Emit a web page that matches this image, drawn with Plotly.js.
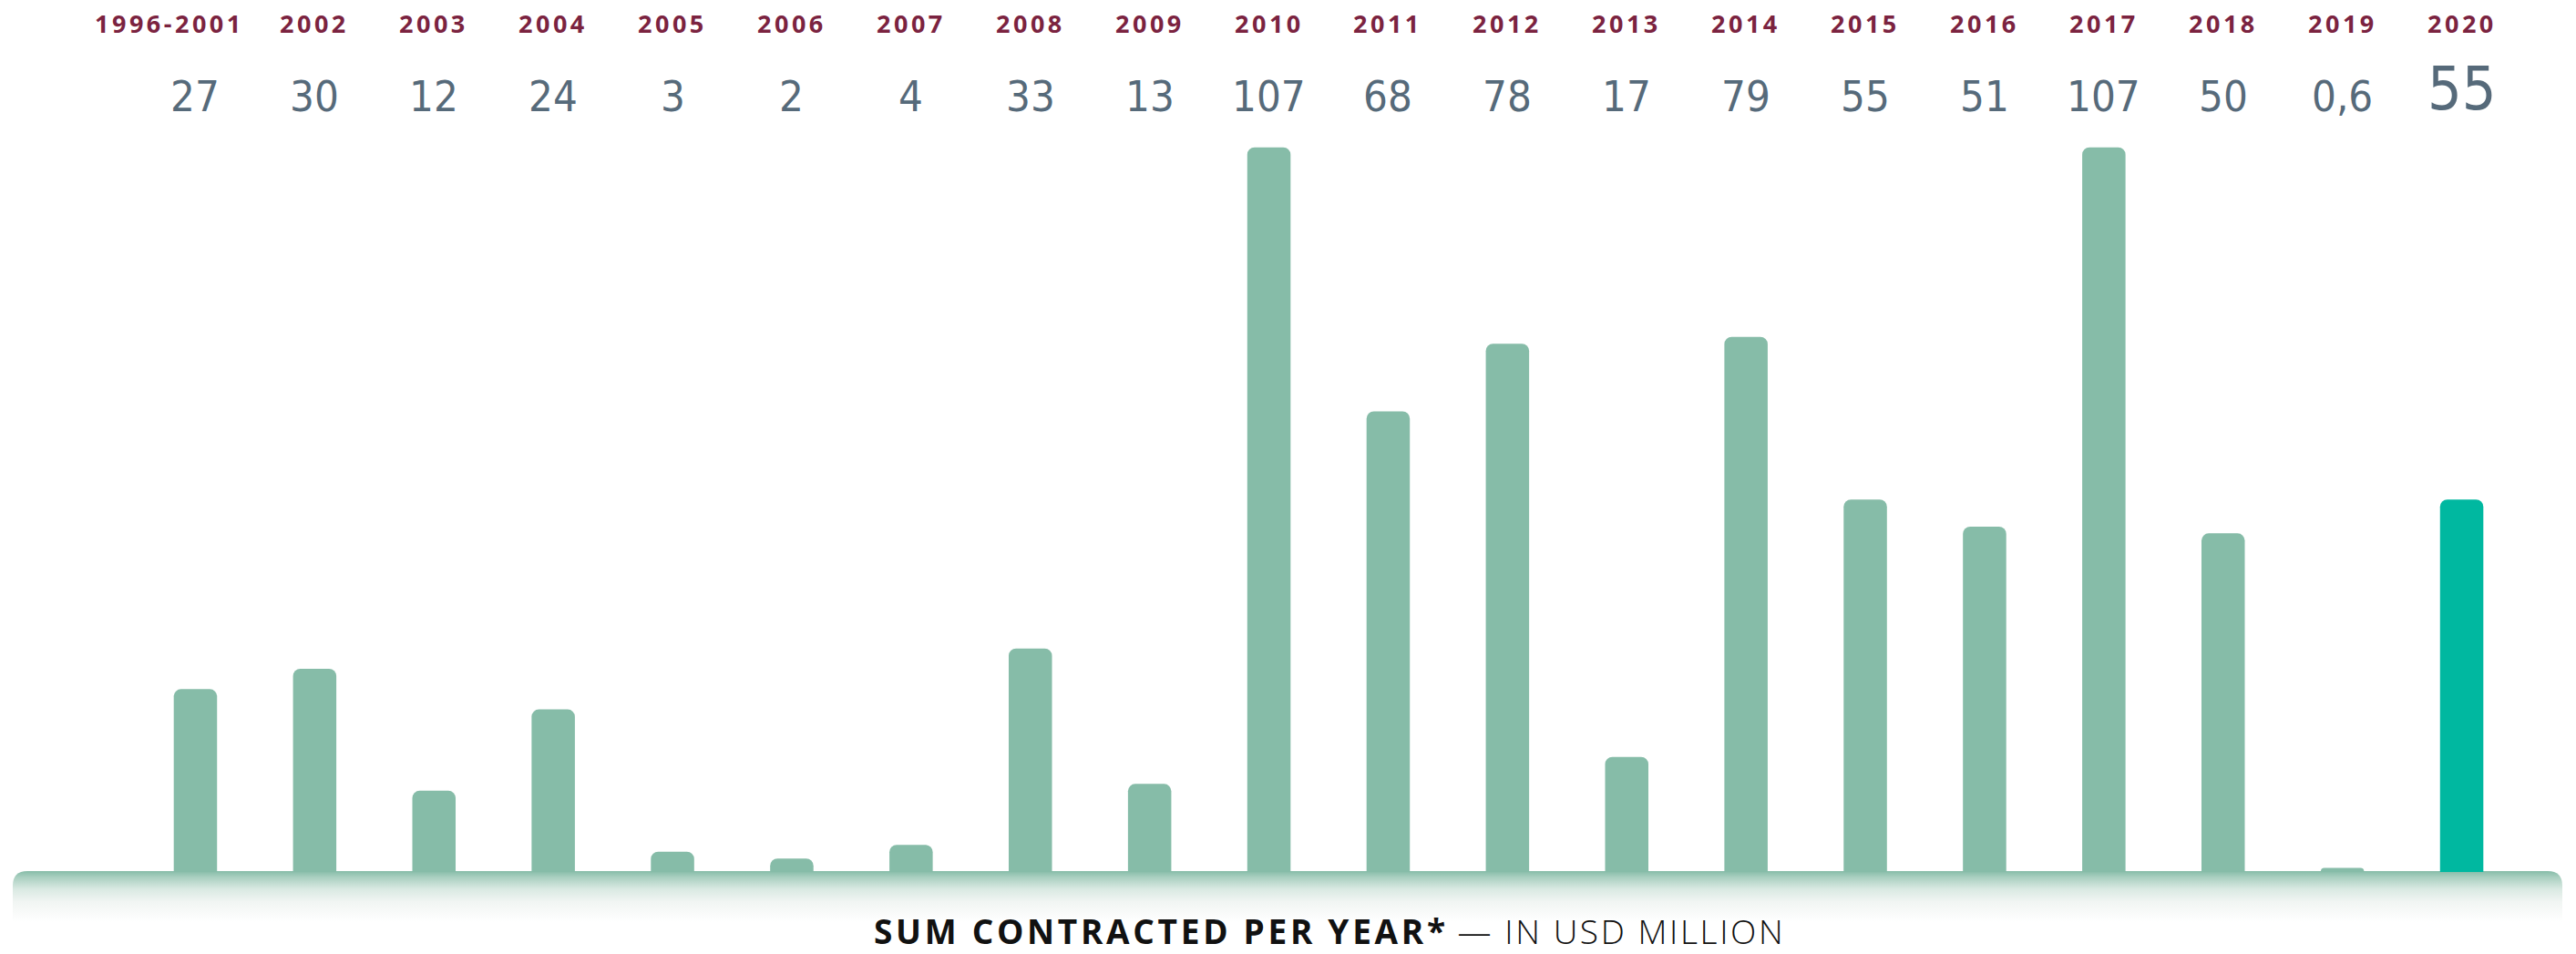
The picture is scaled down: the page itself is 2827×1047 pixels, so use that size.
<!DOCTYPE html>
<html>
<head>
<meta charset="utf-8">
<script src="https://cdn.plot.ly/plotly-3.0.1.min.js"></script>
<style>
  html, body { margin: 0; padding: 0; background: #ffffff; }
  #chart { width: 2827px; height: 1047px; }
</style>
</head>
<body>
<div id="chart"></div>
<script>
// ---- data ----
const periods = ['1996-2001', '2002', '2003', '2004', '2005', '2006', '2007', '2008', '2009', '2010',
                 '2011', '2012', '2013', '2014', '2015', '2016', '2017', '2018', '2019', '2020'];
const sumContracted = [27, 30, 12, 24, 3, 2, 4, 33, 13, 107, 68, 78, 17, 79, 55, 51, 107, 50, 0.6, 55];
const highlightPeriod = '2020';
const chartTitleBold = 'SUM CONTRACTED PER YEAR*';
const chartTitleLight = '— IN USD MILLION';

// ---- styles ----
const baseColor = '#86bca8';
const highlightColor = '#00b8a0';
const yearColor = '#7b2340';
const valueColor = '#566a7a';

const barColors = periods.map(p => p === highlightPeriod ? highlightColor : baseColor);
const valueLabels = sumContracted.map(v => String(v).replace('.', ','));

const plotTop = 65, plotBottom = 957, plotH = plotBottom - plotTop;
const plotLeft = 149, plotRight = 2767, plotW = plotRight - plotLeft;
const py = (pix) => (plotBottom - pix) / plotH;
const px = (pix) => (pix - plotLeft) / plotW;

const annotations = [];
periods.forEach((p, i) => {
  annotations.push({
    x: i, xref: 'x', y: py(25), yref: 'paper', xanchor: 'center', yanchor: 'middle',
    xshift: i === 0 ? -28 : 0,
    showarrow: false,
    text: '<span style="letter-spacing:3.5px">' + p + '</span>',
    font: { family: '"Open Sans", "DejaVu Sans", sans-serif', size: 27, color: yearColor, weight: 700 }
  });
  const hl = p === highlightPeriod;
  annotations.push({
    x: i, xref: 'x', y: py(hl ? 97 : 105), yref: 'paper', xanchor: 'center', yanchor: 'middle',
    showarrow: false,
    text: valueLabels[i],
    font: { family: '"Liberation Sans Narrow", "DejaVu Sans Condensed", sans-serif', size: hl ? 66 : 47, color: valueColor }
  });
});
annotations.push({
  x: px(1459), xref: 'paper', y: py(1021), yref: 'paper', xanchor: 'center', yanchor: 'middle',
  showarrow: false,
  text: '<b><span style="letter-spacing:3.7px">' + chartTitleBold + '</span></b> ' +
        '<span style="letter-spacing:2.6px;font-weight:300">' + chartTitleLight + '</span>',
  font: { family: '"Open Sans", "DejaVu Sans", sans-serif', size: 37, color: '#111111' }
});

// gradient base band (decoration)
const bandW = 2798, bandH = 56;
const bandSvg = "<svg xmlns='http://www.w3.org/2000/svg' width='" + bandW + "' height='" + bandH + "' viewBox='0 0 " + bandW + " " + bandH + "'>" +
  "<defs><linearGradient id='g' x1='0' y1='0' x2='0' y2='1'>" +
  "<stop offset='0' stop-color='#86bca8'/>" +
  "<stop offset='0.12' stop-color='#a9cfc0'/>" +
  "<stop offset='0.35' stop-color='#d9e9e2'/>" +
  "<stop offset='0.6' stop-color='#f1f5f3'/>" +
  "<stop offset='1' stop-color='#ffffff'/>" +
  "</linearGradient></defs>" +
  "<path d='M0," + bandH + " V16 Q0,0 16,0 H" + (bandW - 16) + " Q" + bandW + ",0 " + bandW + ",16 V" + bandH + " Z' fill='url(#g)'/></svg>";

const images = [{
  source: 'data:image/svg+xml;base64,' + btoa(bandSvg),
  xref: 'paper', yref: 'paper',
  x: px(14), y: py(956), sizex: bandW / plotW, sizey: bandH / plotH,
  xanchor: 'left', yanchor: 'top', sizing: 'stretch', layer: 'below'
}];

const trace = {
  type: 'bar',
  x: periods,
  y: sumContracted,
  marker: { color: barColors, cornerradius: 8, line: { width: 0 } },
  hoverinfo: 'skip'
};

const layout = {
  width: 2827, height: 1047,
  margin: { l: plotLeft, r: 2827 - plotRight, t: plotTop, b: 1047 - plotBottom, pad: 0 },
  paper_bgcolor: '#ffffff',
  plot_bgcolor: 'rgba(0,0,0,0)',
  bargap: 0.637,
  showlegend: false,
  xaxis: { type: 'category', range: [-0.5, periods.length - 0.5], showticklabels: false,
           showgrid: false, zeroline: false, showline: false, ticks: '', fixedrange: true },
  yaxis: { range: [0, 120], visible: false, showgrid: false, zeroline: false, fixedrange: true },
  annotations: annotations,
  images: images
};

Plotly.newPlot('chart', [trace], layout, { staticPlot: true, displayModeBar: false });
</script>
</body>
</html>
